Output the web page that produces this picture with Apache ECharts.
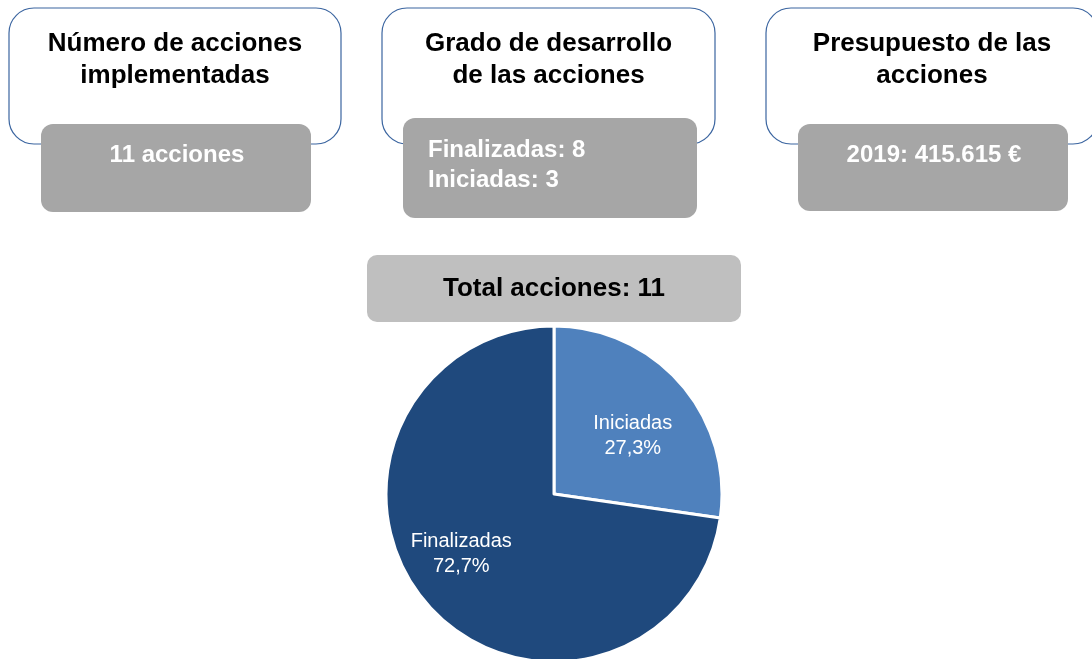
<!DOCTYPE html>
<html>
<head>
<meta charset="utf-8">
<script src="https://cdn.jsdelivr.net/npm/echarts@6/dist/echarts.min.js"></script>
<style>
html,body{margin:0;padding:0;background:#fff;}
#chart{width:1092px;height:659px;}
</style>
</head>
<body>
<div id="chart"></div>
<script>
// ---- data ----
const boxTitles = [
  ['Número de acciones', 'implementadas'],
  ['Grado de desarrollo', 'de las acciones'],
  ['Presupuesto de las', 'acciones']
];
const boxValues = [
  ['11 acciones'],
  ['Finalizadas: 8', 'Iniciadas: 3'],
  ['2019: 415.615 €']
];
const totalLabel = 'Total acciones: 11';
const categories = ['Iniciadas', 'Finalizadas'];
const values = [3, 8];

// ---- layout / style ----
const FONT = "'Liberation Sans', Arial, sans-serif";
const sliceColors = ['#4f81bd', '#1f497d'];
const outerBoxes = [
  {x: 9, y: 8, w: 332, h: 136},
  {x: 382, y: 8, w: 333, h: 136},
  {x: 766, y: 8, w: 332, h: 136}
];
const greyBoxes = [
  {x: 41, y: 124, w: 270, h: 88, align: 'center'},
  {x: 403, y: 118, w: 294, h: 100, align: 'left'},
  {x: 798, y: 124, w: 270, h: 87, align: 'center'}
];
const titleLineY = [44, 76];
const labelOffsets = [[13, -1], [-27, 3]];

const graphics = [];
outerBoxes.forEach((b, i) => {
  graphics.push({
    type: 'rect', z: 1,
    shape: {x: b.x, y: b.y, width: b.w, height: b.h, r: 25},
    style: {fill: '#ffffff', stroke: '#3b65a0', lineWidth: 1.2}
  });
  boxTitles[i].forEach((t, k) => {
    graphics.push({
      type: 'text', z: 2,
      style: {
        text: t, x: b.x + b.w / 2, y: titleLineY[k],
        align: 'center', verticalAlign: 'middle',
        fill: '#000000', fontFamily: FONT, fontWeight: 'bold', fontSize: 26
      }
    });
  });
});
greyBoxes.forEach((g, i) => {
  graphics.push({
    type: 'rect', z: 3,
    shape: {x: g.x, y: g.y, width: g.w, height: g.h, r: 12},
    style: {fill: '#a6a6a6'}
  });
  const lines = boxValues[i];
  lines.forEach((t, k) => {
    const isLeft = g.align === 'left';
    graphics.push({
      type: 'text', z: 4,
      style: {
        text: t,
        x: isLeft ? g.x + 25 : g.x + g.w / 2 + 1,
        y: isLeft ? 150 + k * 30 : 155,
        align: isLeft ? 'left' : 'center', verticalAlign: 'middle',
        fill: '#ffffff', fontFamily: FONT, fontWeight: 'bold', fontSize: 24
      }
    });
  });
});
graphics.push({
  type: 'rect', z: 3,
  shape: {x: 367, y: 255, width: 374, height: 67, r: 10},
  style: {fill: '#bfbfbf'}
});
graphics.push({
  type: 'text', z: 4,
  style: {
    text: totalLabel, x: 554, y: 289,
    align: 'center', verticalAlign: 'middle',
    fill: '#000000', fontFamily: FONT, fontWeight: 'bold', fontSize: 26
  }
});

const chart = echarts.init(document.getElementById('chart'), null, {renderer: 'canvas'});
chart.setOption({
  animation: false,
  backgroundColor: '#ffffff',
  graphic: graphics,
  series: [{
    type: 'pie',
    center: [554, 494],
    radius: [0, 168],
    startAngle: 90,
    clockwise: true,
    data: categories.map((c, i) => ({
      name: c, value: values[i],
      itemStyle: {color: sliceColors[i]}
    })),
    itemStyle: {borderColor: '#ffffff', borderWidth: 3},
    label: {
      show: true, position: 'inside',
      color: '#ffffff', fontFamily: FONT, fontSize: 20, lineHeight: 25,
      formatter: p => p.name + '\n' + p.percent.toFixed(1).replace('.', ',') + '%'
    },
    labelLayout: p => ({dx: labelOffsets[p.dataIndex][0], dy: labelOffsets[p.dataIndex][1]}),
    emphasis: {disabled: true}
  }]
});
</script>
</body>
</html>
